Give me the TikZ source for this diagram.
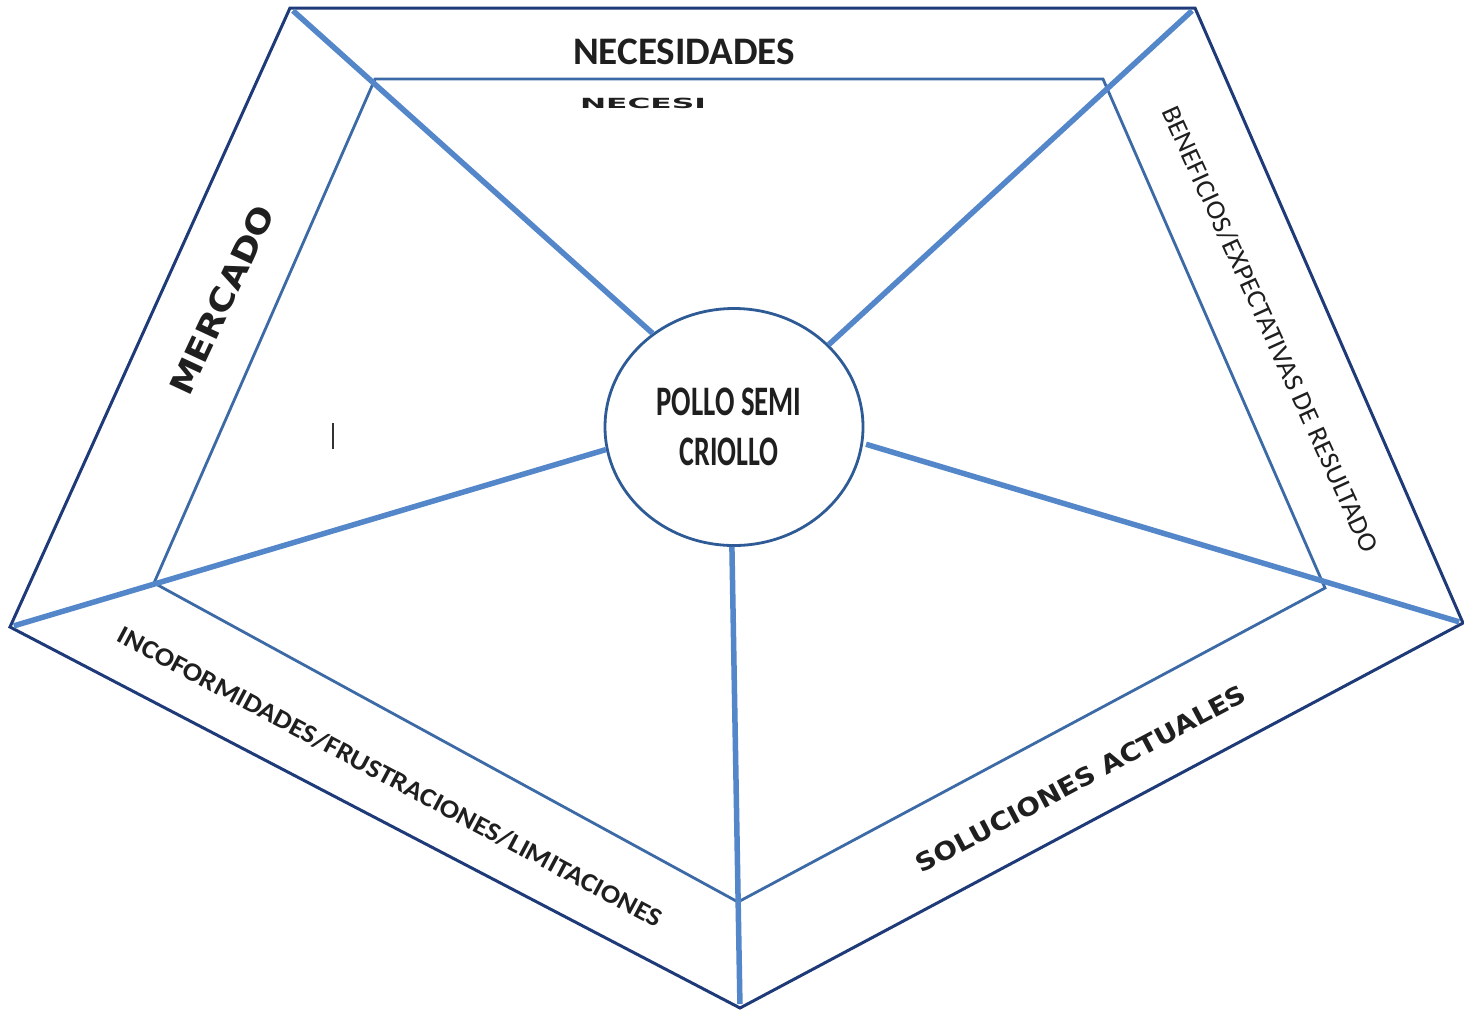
\documentclass[tikz,border=0pt]{standalone}
\usepackage{fontspec}
\usepackage{graphicx}
\usetikzlibrary{shapes.geometric}
\newfontfamily\carlito{Carlito}
\newfontfamily\dejavu{DejaVu Sans}
\definecolor{outerc}{HTML}{1F3A78}
\definecolor{innerc}{HTML}{3C6AA6}
\definecolor{spokec}{HTML}{5486CA}
\definecolor{circc}{HTML}{2E5B96}
\newcommand{\fitw}[2]{\resizebox{#1}{\height}{#2}}
\begin{document}
\begin{tikzpicture}[x=1pt,y=-1pt,
  outerline/.style={draw=outerc,line width=3pt,line join=miter},
  innerline/.style={draw=innerc,line width=2.8pt,line join=miter},
  spoke/.style={draw=spokec,line width=5.5pt,shorten <=4pt},
  lbl/.style={inner sep=0pt,text=black!88}]
\useasboundingbox[fill=white] (0,0) rectangle (1464,1013);
% outer pentagon corners
\coordinate (o1) at (290,8);
\coordinate (o2) at (1195,8);
\coordinate (o3) at (1463,623);
\coordinate (o4) at (740,1008);
\coordinate (o5) at (10,627);
% inner pentagon corners
\coordinate (i1) at (375,79);
\coordinate (i2) at (1103,79);
\coordinate (i3) at (1325,588);
\coordinate (i4) at (738,902);
\coordinate (i5) at (154,583);
\draw[outerline] (o1) -- (o2) -- (o3) -- (o4) -- (o5) -- cycle;
\draw[innerline] (i1) -- (i2) -- (i3) -- (i4) -- (i5) -- cycle;
% centre
\node[ellipse, draw=circc, line width=2.8pt, minimum width=258pt, minimum height=237pt, inner sep=0pt] (c) at (734,427) {};
\draw[spoke] (o1) -- (c.131);
\draw[spoke] (o2) -- (c.41);
\draw[spoke, shorten >=-3pt] (o3) -- ([xshift=6pt]c.-8);
\draw[spoke] (o4) -- (c.-91);
\draw[spoke] (o5) -- (c.190);
\node[lbl, align=center, font=\carlito\bfseries\fontsize{42}{50}\selectfont] (ct) at (729,427) {\fitw{145pt}{POLLO SEMI}\\\fitw{99pt}{CRIOLLO}};
% labels
\node[lbl, font=\carlito\bfseries\fontsize{39}{45}\selectfont] (nec) at (684,52) {\fitw{222pt}{NECESIDADES}};
\node[lbl, font=\dejavu\bfseries\fontsize{14}{16}\selectfont] (nec2) at (643,103) {\fitw{126pt}{NECESI}};
\node[lbl, rotate=65, font=\dejavu\bfseries\fontsize{32}{36}\selectfont] (mer) at (222,300) {\fitw{205pt}{MERCADO}};
\node[lbl, rotate=-65.5, font=\carlito\fontsize{27}{30}\selectfont] (ben) at (1270,329) {\fitw{487pt}{BENEFICIOS/EXPECTATIVAS DE RESULTADO}};
\node[lbl, rotate=-28, font=\carlito\bfseries\fontsize{26}{30}\selectfont] (inc) at (390,777) {\fitw{612pt}{INCOFORMIDADES/FRUSTRACIONES/LIMITACIONES}};
\node[lbl, rotate=28, font=\dejavu\bfseries\fontsize{25}{30}\selectfont] (sol) at (1081,779) {\fitw{370pt}{SOLUCIONES ACTUALES}};
% text cursor mark
\draw[line width=2.5pt, black!80] (333,423) -- (333,449);
\end{tikzpicture}
\end{document}
